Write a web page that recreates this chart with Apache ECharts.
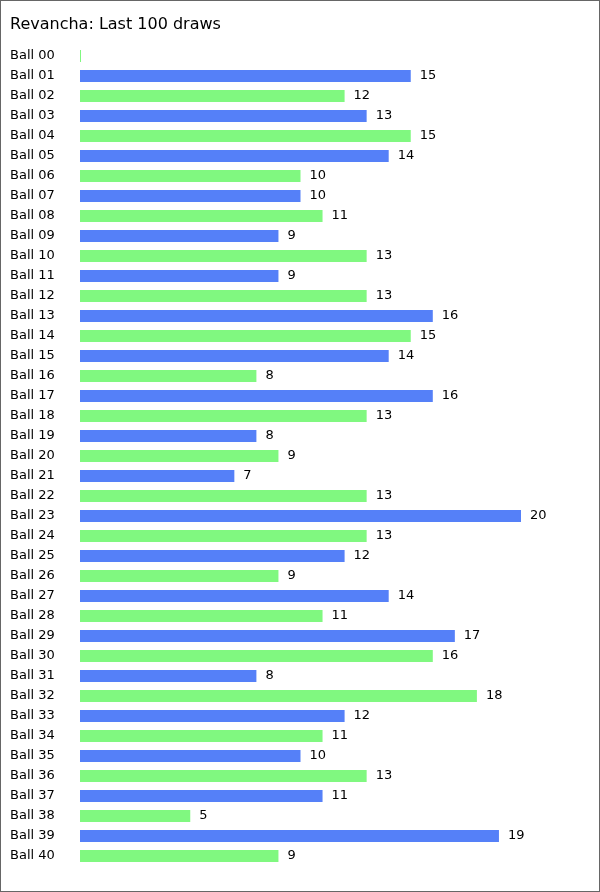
<!DOCTYPE html>
<html><head><meta charset="utf-8">
<script src="https://cdn.jsdelivr.net/npm/echarts@6/dist/echarts.min.js"></script>
<style>
html,body{margin:0;padding:0;background:#fff;}
#c{width:600px;height:892px;box-sizing:border-box;border:1px solid #666;}
</style></head><body>
<div id="c"></div>
<script>
const categories = ['Ball 00','Ball 01','Ball 02','Ball 03','Ball 04','Ball 05','Ball 06','Ball 07','Ball 08','Ball 09','Ball 10','Ball 11','Ball 12','Ball 13','Ball 14','Ball 15','Ball 16','Ball 17','Ball 18','Ball 19','Ball 20','Ball 21','Ball 22','Ball 23','Ball 24','Ball 25','Ball 26','Ball 27','Ball 28','Ball 29','Ball 30','Ball 31','Ball 32','Ball 33','Ball 34','Ball 35','Ball 36','Ball 37','Ball 38','Ball 39','Ball 40'];
const counts = [0,15,12,13,15,14,10,10,11,9,13,9,13,16,15,14,8,16,13,8,9,7,13,20,13,12,9,14,11,17,16,8,18,12,11,10,13,11,5,19,9];
const colors = ['#80f880','#5580f8'];

const chart = echarts.init(document.getElementById('c'), null, {renderer:'canvas'});
chart.setOption({
  animation:false,
  title:{text:'Revancha: Last 100 draws',left:4,top:11,textStyle:{fontFamily:'DejaVu Sans',fontSize:16,fontWeight:'normal',color:'#000'}},
  grid:{left:79,top:45,width:441,height:820,containLabel:false},
  xAxis:{type:'value',min:0,max:20,show:false},
  yAxis:{type:'category',data:categories,inverse:true,
    axisLine:{show:false},axisTick:{show:false},
    axisLabel:{align:'left',margin:70,fontFamily:'DejaVu Sans',fontSize:13,color:'#000'}},
  series:[{type:'bar',barWidth:12,barMinHeight:1,
    data:counts.map((v,i)=>({value:v,itemStyle:{color:colors[i%2]}})),
    label:{show:true,position:'right',distance:9,fontFamily:'DejaVu Sans',fontSize:13,color:'#000',
      formatter:p=>p.value===0?'':String(p.value)}}]
});
</script></body></html>
